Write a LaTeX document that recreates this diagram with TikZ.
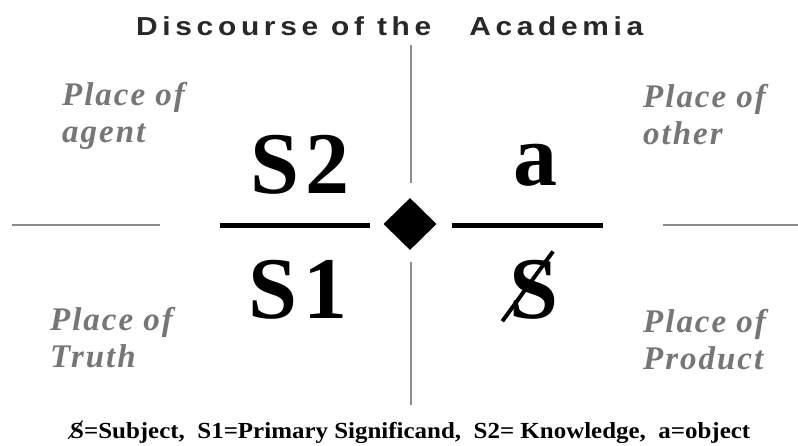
\documentclass[tikz,border=0pt]{standalone}
\usepackage{fontspec}
\usepackage{graphicx}
\usetikzlibrary{shapes.geometric}
\setmainfont{Liberation Serif}
\newfontfamily\titlefont[LetterSpace=18,FakeStretch=1.15]{Liberation Sans}
\newfontfamily\placefont[LetterSpace=6]{Liberation Serif}
\definecolor{lacgray}{RGB}{118,118,118}
\definecolor{lacline}{RGB}{140,140,140}
\definecolor{lacdark}{RGB}{40,40,40}
\newcommand{\slashS}{\leavevmode\rlap{\kern-0.1em\raisebox{-0.05em}{\rotatebox{54}{\rule{0.98em}{0.045em}}}}S}

\begin{document}
\begin{tikzpicture}[x=1pt,y=-1pt,
  place/.style={anchor=north west,inner sep=0pt,align=left,text=lacgray,
    font=\placefont\bfseries\itshape\fontsize{33}{37}\selectfont},
  big/.style={anchor=base,inner sep=0pt,font=\bfseries\fontsize{88}{88}\selectfont},
  thin/.style={draw=lacline,line width=1.6pt},
  bar/.style={line width=5pt}]
  \useasboundingbox (0,0) rectangle (798,445);
  \coordinate (vt) at (411,45);
  \coordinate (vm) at (411,183);
  \coordinate (vn) at (411,262);
  \coordinate (vb) at (411,405);
  \coordinate (ha) at (12,225);
  \coordinate (hb) at (160,225);
  \coordinate (hc) at (663,225);
  \coordinate (hd) at (798,225);
  \coordinate (la) at (220,225);
  \coordinate (lb) at (370,225);
  \coordinate (ra) at (452,225);
  \coordinate (rb) at (603,225);
  \node[diamond,fill=black,inner sep=0pt,minimum width=53pt,minimum height=52pt] (hub) at (410,224) {};
  \draw[thin] (vt) -- (vm) (vn) -- (vb) (ha) -- (hb) (hc) -- (hd);
  \draw[bar] (la) -- (lb) (ra) -- (rb);
  \node[anchor=base west,inner sep=0pt,text=lacdark,font=\titlefont\bfseries\fontsize{26}{26}\selectfont] (title)
    at (136,35) {Discourse of the\hspace{38pt}Academia};
  \node[place] (agent) at (62,82) {Place of\\agent};
  \node[place] (other) at (643,84) {Place of\\other};
  \node[place] (truth) at (50,307) {Place of\\Truth};
  \node[place] (product) at (643,309) {Place of\\Product};
  \node[big] (s2) at (300,193) {S\kern6pt2};
  \node[big] (obj) at (535,185) {a};
  \node[big] (s1) at (298,318) {S\kern6pt1};
  \node[big] (subj) at (534,318) {\slashS};
  \node[anchor=base west,inner sep=0pt,font=\bfseries\fontsize{23}{23}\selectfont] (legend) at (70,438)
    {\resizebox{680pt}{\height}{\slashS=Subject,\ \ S1=Primary Significand,\ \ S2= Knowledge,\ \ a=object}};
\end{tikzpicture}
\end{document}
